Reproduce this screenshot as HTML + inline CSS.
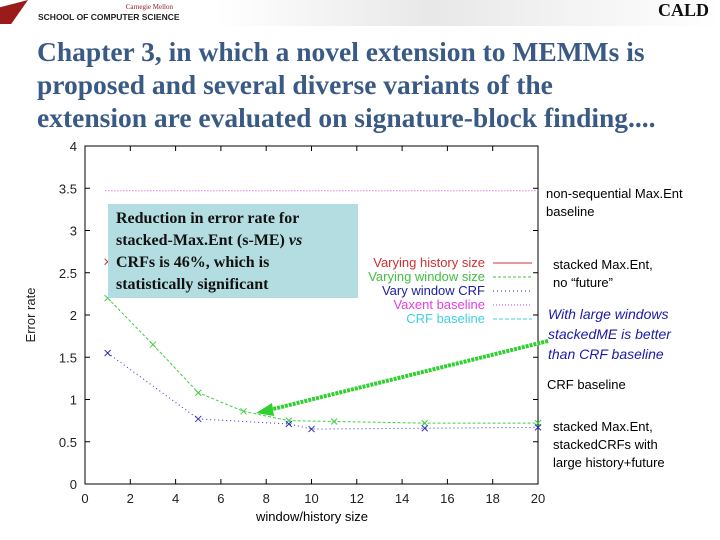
<!DOCTYPE html>
<html><head><meta charset="utf-8"><style>
body{margin:0;width:720px;height:540px;background:#fff;overflow:hidden;position:relative;font-family:"Liberation Sans",sans-serif}
.abs{position:absolute}
#title{left:37px;top:35px;font:bold 27.5px/33px "Liberation Serif",serif;color:#3a5a86;white-space:nowrap}
.note{font-size:13px;line-height:18px;color:#000}
</style></head><body>
<div class="abs" style="left:0;top:0;width:720px;height:26px;background:linear-gradient(90deg,#fff 30%,#e8e8e8 60%,#fff)"></div>
<div class="abs" style="left:0;top:0;width:28px;height:24px;background:#9b1b1b;clip-path:polygon(0 30%,100% 0,40% 100%,0 100%)"></div>
<div class="abs" style="left:38px;top:2px;width:135px;font-size:9px;line-height:10px;color:#222;white-space:nowrap">
<div style="text-align:right;color:#8b1a1a;font-family:'Liberation Serif',serif;font-size:7px">Carnegie Mellon</div>
<div style="font-weight:bold;font-size:8.5px">SCHOOL OF COMPUTER SCIENCE</div></div>
<div class="abs" style="left:658px;top:0px;font:bold 18px 'Liberation Serif',serif;color:#111">CALD</div>
<div id="title" class="abs">Chapter 3, in which a novel extension to MEMMs is<br>proposed and several diverse variants of the<br>extension are evaluated on signature-block finding....</div>
<svg class="abs" style="left:0;top:0" width="720" height="540" id="chart"></svg>
<div class="abs" style="left:108px;top:204px;width:242px;height:90px;background:#b3dde0;padding:4px 0 0 8px;font:bold 16px/22px 'Liberation Serif',serif;color:#111;white-space:nowrap">Reduction in error rate for<br>stacked-Max.Ent (s-ME) <i>vs</i><br>CRFs is 46%, which is<br>statistically significant</div>
<div class="abs note" style="left:546px;top:185px">non-sequential Max.Ent<br>baseline</div>
<div class="abs note" style="left:553px;top:256px">stacked Max.Ent,<br>no “future”</div>
<div class="abs" style="left:548px;top:304px;font:italic 14px/20px 'Liberation Sans',sans-serif;color:#1a1aa8">With large windows<br>stackedME is better<br>than CRF baseline</div>
<div class="abs note" style="left:547px;top:376px">CRF baseline</div>
<div class="abs note" style="left:553px;top:418px">stacked Max.Ent,<br>stackedCRFs with<br>large history+future</div>
<script>
const xTicks=[0,2,4,6,8,10,12,14,16,18,20];
const yTicks=[0,0.5,1,1.5,2,2.5,3,3.5,4];
const windowX=[1,3,5,7,9,11,15,20];
const windowY=[2.2,1.65,1.08,0.86,0.75,0.74,0.72,0.72];
const crfX=[1,5,9,10,15,20];
const crfY=[1.55,0.77,0.71,0.65,0.66,0.67];
const historyX=[1];
const historyY=[2.63];
const maxentBaseline=[3.47];
const NS='http://www.w3.org/2000/svg';
const svg=document.getElementById('chart');
const X0=85,X1=538,Y0=484,Y1=146;
const sx=v=>X0+(X1-X0)*v/20, sy=v=>Y0-(Y0-Y1)*v/4;
function mk(t,a){const e=document.createElementNS(NS,t);for(const k in a)e.setAttribute(k,a[k]);svg.appendChild(e);return e;}
let r=mk('rect',{x:X0,y:Y1,width:X1-X0,height:Y0-Y1,fill:'none',stroke:'#000','stroke-width':1});


xTicks.forEach(v=>{
 let l=mk('line',{x1:sx(v),x2:sx(v),y1:Y0,y2:Y0-5,stroke:'#000'});
 
 
 mk('line',{x1:sx(v),x2:sx(v),y1:Y1,y2:Y1+5,stroke:'#000'});
 let t=mk('text',{x:sx(v),y:Y0+19,'text-anchor':'middle','font-size':13,fill:'#222','font-family':'Liberation Sans'});
 t.textContent=v;
 
 
});
yTicks.forEach(v=>{
 let l=mk('line',{x1:X0,x2:X0+5,y1:sy(v),y2:sy(v),stroke:'#000'});
 
 
 mk('line',{x1:X1,x2:X1-5,y1:sy(v),y2:sy(v),stroke:'#000'});
 let t=mk('text',{x:X0-8,y:sy(v)+5,'text-anchor':'end','font-size':13,fill:'#222','font-family':'Liberation Sans'});
 t.textContent=v;
 
 
});
let xt=mk('text',{x:312,y:521,'text-anchor':'middle','font-size':13,fill:'#000'});
xt.textContent='window/history size';


let yt=mk('text',{x:35,y:315,'text-anchor':'middle','font-size':13,fill:'#222',transform:'rotate(-90 35 315)'});
yt.textContent='Error rate';


let mb=mk('line',{x1:sx(0.9),x2:X1,y1:sy(maxentBaseline[0]),y2:sy(maxentBaseline[0]),stroke:'#e040e0','stroke-dasharray':'1 2'});


function series(xs,ys,col,dash,name){
 const p=mk('polyline',{points:xs.map((x,i)=>sx(x)+','+sy(ys[i])).join(' '),fill:'none',stroke:col,'stroke-width':1,'stroke-dasharray':dash});
 
 
 xs.forEach((x,i)=>{const cx=sx(x),cy=sy(ys[i]);
  const m=mk('path',{d:`M${cx-3} ${cy-3}L${cx+3} ${cy+3}M${cx-3} ${cy+3}L${cx+3} ${cy-3}`,stroke:col,'stroke-width':1});
  
  
 });
}
series(historyX,historyY,'#d03030','','history');
series(windowX,windowY,'#40d040','3 2','window');
series(crfX,crfY,'#3030c0','1 3','crf');
const leg=[['Varying history size','#d03030',''],['Varying window size','#40c040','3 2'],['Vary window   CRF','#2020a0','1 3'],['Vaxent baseline','#e040e0','1 2'],['CRF baseline','#40d0e0','4 2']];
leg.forEach((e,i)=>{const y=263+i*14;
 let t=mk('text',{x:485,y:y+4,'text-anchor':'end','font-size':13,fill:e[1]});t.textContent=e[0];
 
 
 mk('line',{x1:493,x2:532,y1:y,y2:y,stroke:e[1],'stroke-dasharray':e[2]});
});
let ar=mk('line',{x1:548,y1:341,x2:265,y2:411,stroke:'#30d030','stroke-width':4,'stroke-dasharray':'3 1'});


let ah=mk('polygon',{points:'256,413 272,403 274,416',fill:'#30d030'});


</script>
</body></html>
